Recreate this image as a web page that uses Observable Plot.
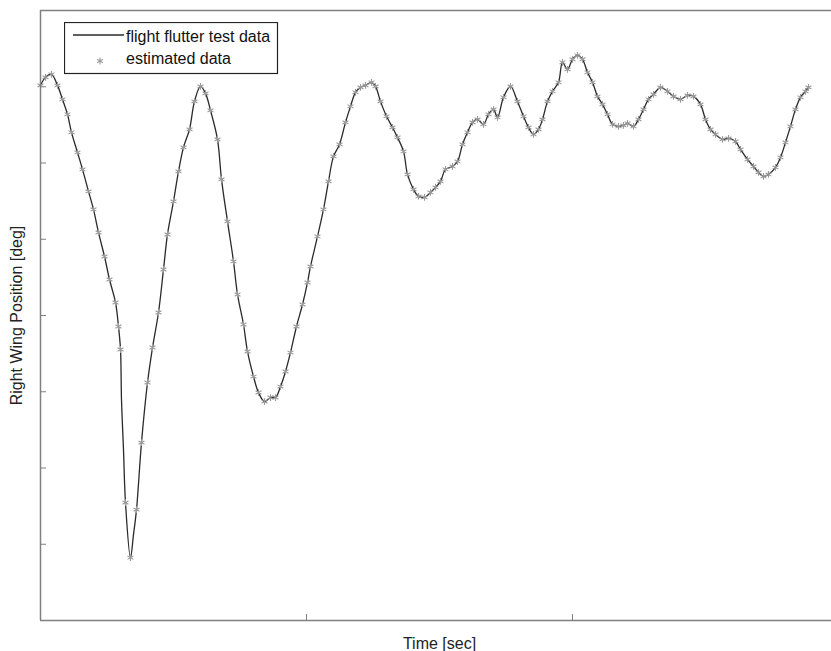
<!DOCTYPE html>
<html><head><meta charset="utf-8">
<script src="https://cdn.jsdelivr.net/npm/d3@7"></script>
<script src="https://cdn.jsdelivr.net/npm/@observablehq/plot@0.6"></script>
<style>
html,body{margin:0;padding:0;background:#fff;overflow:hidden;width:831px;height:651px}
#wrap{position:relative;width:831px;height:651px;overflow:hidden}
#legend{position:absolute;left:64px;top:22px}
</style></head><body><div id="wrap"></div>
<script>
// estimated data (time in sec, right wing position in deg)
const estTime = [
 0, 0.0188, 0.0414, 0.0639, 0.0827, 0.1015, 0.1165, 0.1391, 0.1579, 0.1805,
 0.1992, 0.2180, 0.2406, 0.2594, 0.2820, 0.2932, 0.3008, 0.3195, 0.3383, 0.3609,
 0.3797, 0.4023, 0.4211, 0.4436, 0.4624, 0.4774, 0.5, 0.5188, 0.5376, 0.5602,
 0.5789, 0.6015, 0.6203, 0.6391, 0.6654, 0.6805, 0.7030, 0.7256, 0.7406, 0.7632,
 0.7782, 0.8008, 0.8195, 0.8421, 0.8647, 0.8835, 0.9023, 0.9211, 0.9398, 0.9624,
 0.9850, 1.0038, 1.0150, 1.0414, 1.0639, 1.0827, 1.1015, 1.1241, 1.1466, 1.1654,
 1.1842, 1.2030, 1.2218, 1.2444, 1.2594, 1.2782, 1.3008, 1.3233, 1.3421, 1.3647,
 1.3797, 1.4023, 1.4211, 1.4436, 1.4662, 1.4850, 1.5038, 1.5226, 1.5489, 1.5677,
 1.5865, 1.6053, 1.6241, 1.6429, 1.6654, 1.6842, 1.7030, 1.7180, 1.7406, 1.7669,
 1.7932, 1.8158, 1.8346, 1.8534, 1.8722, 1.8872, 1.9060, 1.9248, 1.9474, 1.9624,
 1.9812, 2.0, 2.0188, 2.0376, 2.0564, 2.0752, 2.0940, 2.1128, 2.1316, 2.1504,
 2.1729, 2.1917, 2.2068, 2.2293, 2.2481, 2.2669, 2.2857, 2.3045, 2.3308, 2.3571,
 2.3797, 2.4060, 2.4323, 2.4549, 2.4812, 2.5, 2.5188, 2.5376, 2.5639, 2.5865,
 2.6128, 2.6316, 2.6579, 2.6805, 2.6992, 2.7180, 2.7368, 2.7632, 2.7820, 2.8008,
 2.8195, 2.8383, 2.8571, 2.8759, 2.8872
];
const estDeg = [
 3.018, 3.123, 3.163, 3.018, 2.835, 2.638, 2.402, 2.139, 1.916, 1.627,
 1.391, 1.089, 0.774, 0.472, 0.171, -0.144, -0.446, -2.454, -3.176, -2.546,
 -1.667, -0.879, -0.420, 0.039, 0.604, 1.063, 1.496, 1.890, 2.205, 2.441,
 2.808, 3.005, 2.913, 2.690, 2.310, 1.785, 1.234, 0.709, 0.276, -0.118,
 -0.472, -0.801, -1.010, -1.129, -1.076, -1.076, -0.932, -0.735, -0.486, -0.144,
 0.144, 0.433, 0.643, 1.037, 1.391, 1.759, 2.087, 2.244, 2.533, 2.743,
 2.927, 2.992, 3.018, 3.058, 3.005, 2.808, 2.612, 2.467, 2.336, 2.152,
 1.850, 1.654, 1.562, 1.549, 1.614, 1.680, 1.759, 1.916, 1.955, 2.021,
 2.244, 2.402, 2.533, 2.572, 2.507, 2.638, 2.703, 2.598, 2.861, 3.005,
 2.808, 2.612, 2.467, 2.375, 2.441, 2.572, 2.808, 2.940, 3.058, 3.320,
 3.228, 3.360, 3.412, 3.360, 3.189, 3.058, 2.874, 2.769, 2.638, 2.507,
 2.480, 2.493, 2.520, 2.480, 2.572, 2.703, 2.835, 2.900, 2.992, 2.940,
 2.874, 2.835, 2.887, 2.874, 2.769, 2.572, 2.441, 2.375, 2.310, 2.323,
 2.283, 2.178, 2.047, 1.955, 1.877, 1.824, 1.850, 1.942, 2.073, 2.270,
 2.480, 2.703, 2.861, 2.940, 2.992
];
// extra flight test samples in the steep dip (between estimated samples)
const flightExtraTime = [0.3045, 0.3120, 0.3496];
const flightExtraDeg = [-1.102, -1.759, -2.874];

const xDomain = [0, 3];
const yDomain = [-4, 4];
const xTicks = [1, 2];
const yTicks = [-3, -2, -1, 0, 1, 2, 3];
const seriesNames = ["flight flutter test data", "estimated data"];
const xLabel = "Time [sec]";
const yLabel = "Right Wing Position [deg]";

const estimated = estTime.map((t, i) => ({time: t, deg: estDeg[i]}));
const flight = estimated
  .concat(flightExtraTime.map((t, i) => ({time: t, deg: flightExtraDeg[i]})))
  .sort((a, b) => a.time - b.time);

const chart = Plot.plot({
  width: 831, height: 651,
  marginLeft: 40, marginRight: -7, marginTop: 10, marginBottom: 31,
  style: {fontFamily: "'Liberation Sans', Arial, sans-serif", fontSize: "16px", background: "#fff", color: "#222", maxWidth: "none"},
  x: {domain: xDomain},
  y: {domain: yDomain},
  marks: [
    Plot.axisX({ticks: xTicks, tickSize: -6, tickFormat: () => "", stroke: "#808080",
      label: xLabel, labelAnchor: "center", labelArrow: "none", labelOffset: 28}),
    Plot.axisY({ticks: yTicks, tickSize: -6, tickFormat: () => "", stroke: "#808080",
      label: yLabel, labelAnchor: "center", labelArrow: "none", labelOffset: 30}),
    Plot.line(flight, {x: "time", y: "deg", stroke: "#2a2a2a", strokeWidth: 1.3, curve: "catmull-rom"}),
    Plot.dot(estimated, {x: "time", y: "deg", symbol: "asterisk", r: 3.2, stroke: "#9a9a9a", strokeWidth: 1.1}),
    Plot.ruleY(yDomain, {stroke: "#808080", strokeWidth: 1.5}),
    Plot.ruleX([xDomain[0]], {stroke: "#808080", strokeWidth: 1.5})
  ]
});
chart.style.maxWidth = "none";
const wrap = document.getElementById("wrap");
wrap.appendChild(chart);

// legend inside the axes (top-left)
const lg = d3.select(wrap).append("svg").attr("id", "legend")
  .attr("width", 215).attr("height", 53)
  .style("font-family", "'Liberation Sans', Arial, sans-serif").style("font-size", "16px");
lg.append("rect").attr("x", 0.5).attr("y", 0.5).attr("width", 213).attr("height", 51)
  .attr("fill", "#fff").attr("stroke", "#222").attr("stroke-width", 1.2);
lg.append("line").attr("x1", 9).attr("x2", 60).attr("y1", 13).attr("y2", 13)
  .attr("stroke", "#2a2a2a").attr("stroke-width", 1.3);
lg.append("path").attr("d", d3.symbol(d3.symbolAsterisk, Math.PI * 3.2 * 3.2)())
  .attr("transform", "translate(36,39)").attr("fill", "none")
  .attr("stroke", "#9a9a9a").attr("stroke-width", 1.1);
lg.append("text").attr("x", 62).attr("y", 20).attr("fill", "#111").text(seriesNames[0]);
lg.append("text").attr("x", 62).attr("y", 42).attr("fill", "#111").text(seriesNames[1]);
</script></body></html>
